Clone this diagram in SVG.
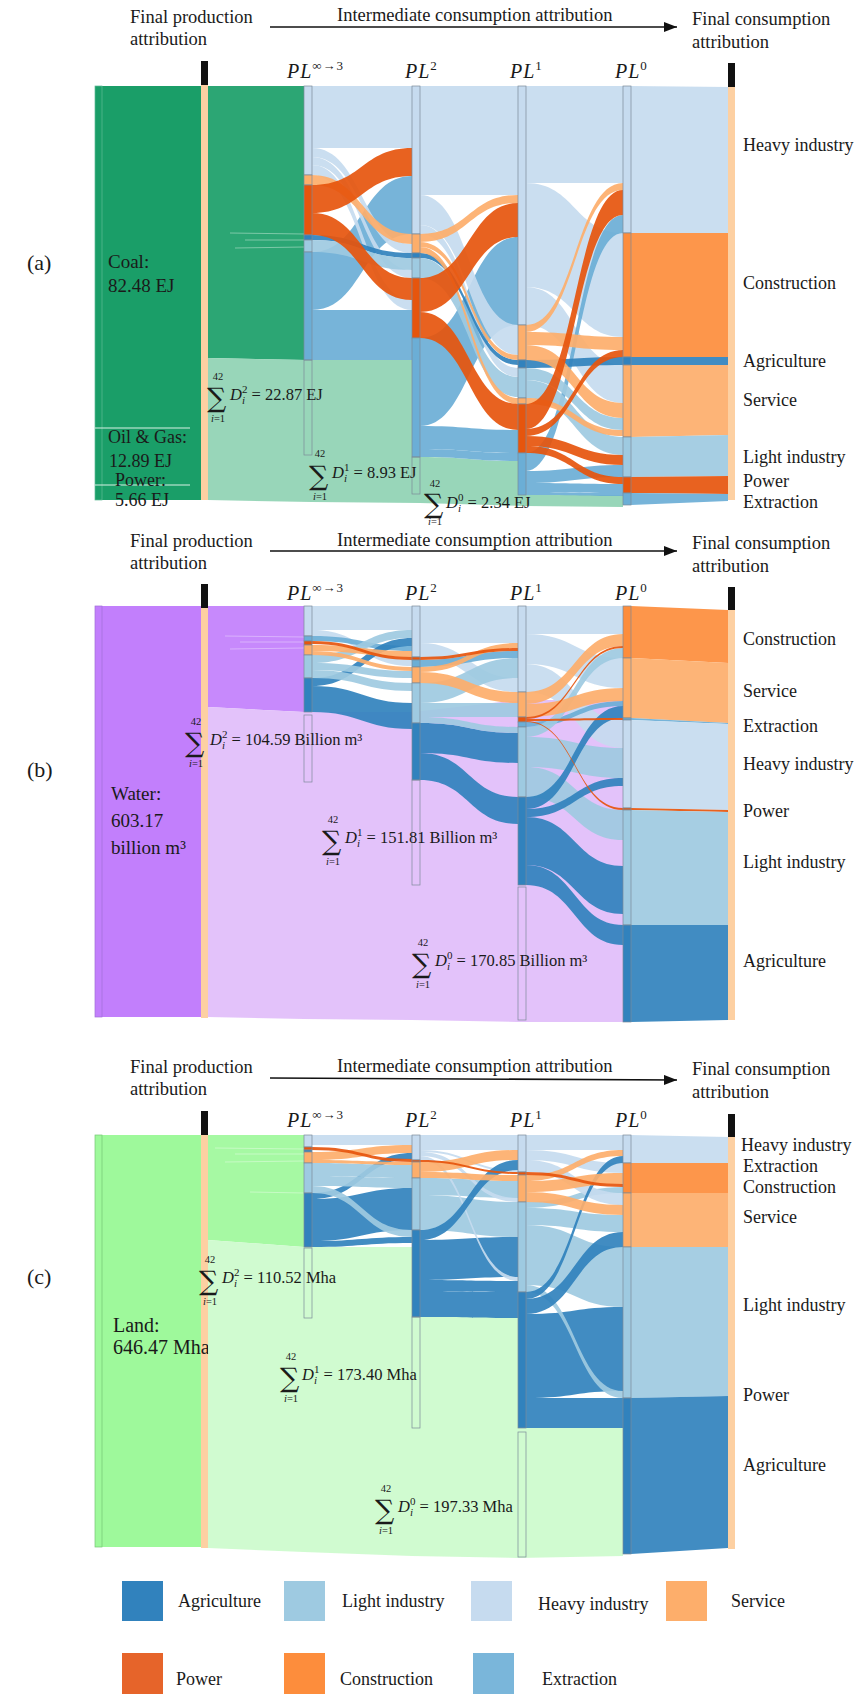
<svg xmlns="http://www.w3.org/2000/svg" width="864" height="1694" viewBox="0 0 864 1694">
<defs>
<marker id="arr" markerUnits="userSpaceOnUse" markerWidth="13" markerHeight="10" refX="13" refY="5" orient="auto"><path d="M0 0L13 5L0 10Z" fill="#111"/></marker>
<style>
.h{fill:#c6dbef}.l{fill:#9ecae1}.a{fill:#3182bd}.e{fill:#6baed6}.s{fill:#fdae6b}.c{fill:#fd8d3c}.p{fill:#e6550d}
.fl path{fill-opacity:.92}
.nd rect{stroke:#7b8a99;stroke-width:.7}
rect.em{fill:none}
.tan{fill:#fdd0a2}
.blk{fill:#111}
.sl{stroke-width:1;opacity:.55}
text{font-family:"Liberation Serif","Times New Roman",serif;fill:#1a1a1a}
.tt{font-size:18.5px}
.lb{font-size:18px}
.big{font-size:19px}
.pl{font-size:20px;font-style:italic;letter-spacing:1px}
.up{font-style:normal;font-size:13px}
.sm{font-size:16.5px}
.sig{font-family:"DejaVu Serif",serif;font-size:27px}
.ss{font-size:10.5px}
.it{font-style:italic}
.arrow{stroke:#111;stroke-width:1.6;marker-end:url(#arr)}
</style>
</defs>
<rect width="864" height="1694" fill="#fff"/>

<!-- ================= PANEL A ================= -->
<g id="panel-a">
<g id="a-titles">
<text class="tt" x="130" y="23">Final production</text>
<text class="tt" x="130" y="45">attribution</text>
<line class="arrow" x1="270" y1="27" x2="677" y2="27"/>
<text class="tt" x="337" y="21">Intermediate consumption attribution</text>
<text class="tt" x="692" y="25">Final consumption</text>
<text class="tt" x="692" y="48">attribution</text>
<text x="27" y="270" font-size="22">(a)</text>
<text class="pl" x="287" y="78">PL<tspan class="up" dy="-8">∞→3</tspan></text>
<text class="pl" x="405" y="78">PL<tspan class="up" dy="-8">2</tspan></text>
<text class="pl" x="510" y="78">PL<tspan class="up" dy="-8">1</tspan></text>
<text class="pl" x="615" y="78">PL<tspan class="up" dy="-8">0</tspan></text>
</g>
<g id="a-source">
<rect x="95" y="86" width="106" height="414" fill="#1a9e68"/>
<rect x="95" y="86" width="7" height="414" fill="#1a9e68" stroke="#5fb996" stroke-width=".7"/>
<line x1="95" y1="428" x2="190" y2="428" stroke="#d8f0e4" stroke-width="1"/>
<line x1="95" y1="485" x2="190" y2="485" stroke="#d8f0e4" stroke-width="1"/>
<rect class="tan" x="201" y="85" width="7" height="415"/>
<rect class="blk" x="201" y="61" width="7" height="24"/>
<text class="big" x="108" y="268">Coal:</text>
<text class="big" x="108" y="292">82.48 EJ</text>
<text class="lb" x="108" y="443">Oil &amp; Gas:</text>
<text class="lb" x="109" y="467">12.89 EJ</text>
<text class="lb" x="115" y="486">Power:</text>
<text class="lb" x="115" y="506">5.66 EJ</text>
</g>
<g id="a-flows" class="fl">
<path d="M208 86H304V360L208 358Z" fill="#1a9e68" fill-opacity="1"/>
<line class="sl" x1="230" y1="233" x2="304" y2="234" stroke="#bfe6d3"/>
<line class="sl" x1="245" y1="240" x2="304" y2="240" stroke="#bfe6d3"/>
<line class="sl" x1="235" y1="248" x2="304" y2="247" stroke="#bfe6d3"/>
<path d="M208 358L312 360L412 360V457H420C469 457 469 461 518 461V495H623V507L526 506L420 503L312 502L208 500Z" fill="#8fd3b3" fill-opacity="1"/>
<path class="e" d="M312 252C362 252 362 176 412 176V234C362 234 362 310 312 310Z"/>
<path class="e" d="M312 310H412V338H312Z"/>
<path class="e" d="M312 338H412V360H312Z"/>
<path class="h" d="M312 86H412V148H312Z"/>
<path class="h" d="M312 148C362 148 362 244 412 244V253C362 253 362 157 312 157Z"/>
<path class="h" d="M312 157C362 157 362 270 412 270V278C362 278 362 165 312 165Z"/>
<path class="h" d="M312 165C362 165 362 300 412 300V310C362 310 362 175 312 175Z"/>
<path class="a" d="M312 235C362 235 362 253 412 253V258C362 258 362 240 312 240Z"/>
<path class="l" d="M312 240C362 240 362 258 412 258V270C362 270 362 252 312 252Z"/>
<path class="s" d="M312 175C362 175 362 234 412 234V244C362 244 362 185 312 185Z"/>
<path class="p" d="M312 185C362 185 362 148 412 148V176C362 176 362 213 312 213Z"/>
<path class="p" d="M312 213C362 213 362 278 412 278V300C362 300 362 235 312 235Z"/>

<path class="h" d="M420 86H518V195H420Z"/>
<path class="e" d="M420 338C469 338 469 237 518 237V325C469 325 469 426 420 426Z"/>
<path class="e" d="M420 426C469 426 469 430 518 430V453C469 453 469 449 420 449Z"/>
<path class="e" d="M420 449C469 449 469 453 518 453V461C469 461 469 457 420 457Z"/>
<path class="h" d="M420 195C469 195 469 325 518 325V355C469 355 469 225 420 225Z"/>
<path class="h" d="M420 225C469 225 469 368 518 368V377C469 377 469 234 420 234Z"/>
<path class="a" d="M420 253C469 253 469 360 518 360V365C469 365 469 258 420 258Z"/>
<path class="l" d="M420 258C469 258 469 377 518 377V397C469 397 469 278 420 278Z"/>
<path class="s" d="M420 234C469 234 469 195 518 195V203C469 203 469 242 420 242Z"/>
<path class="s" d="M420 242C469 242 469 355 518 355V360C469 360 469 247 420 247Z"/>
<path class="s" d="M420 247C469 247 469 398 518 398V404C469 404 469 253 420 253Z"/>
<path class="p" d="M420 278C469 278 469 203 518 203V237C469 237 469 312 420 312Z"/>
<path class="p" d="M420 312C469 312 469 404 518 404V430C469 430 469 338 420 338Z"/>

<path class="h" d="M526 86H623V183H526Z"/>
<path class="h" d="M526 183C575 183 575 233 623 233V337C575 337 575 287 526 287Z"/>
<path class="h" d="M526 287C575 287 575 365 623 365V403C575 403 575 325 526 325Z"/>
<path class="e" d="M526 453C575 453 575 215 623 215V233C575 233 575 471 526 471Z"/>
<path class="e" d="M526 471C575 471 575 465 623 465V477C575 477 575 483 526 483Z"/>
<path class="e" d="M526 483C575 483 575 484 623 484V493C575 493 575 492 526 492Z"/>
<path class="e" d="M526 492C575 492 575 493 623 493V496C575 496 575 495 526 495Z"/>
<path class="a" d="M526 360C575 360 575 357 623 357V365C575 365 575 368 526 368Z"/>
<path class="l" d="M526 368C575 368 575 418 623 418V430C575 430 575 380 526 380Z"/>
<path class="l" d="M526 380C575 380 575 437 623 437V455C575 455 575 398 526 398Z"/>
<path class="s" d="M526 325C575 325 575 183 623 183V190C575 190 575 332 526 332Z"/>
<path class="s" d="M526 332C575 332 575 337 623 337V350C575 350 575 345 526 345Z"/>
<path class="s" d="M526 345C575 345 575 403 623 403V418C575 418 575 360 526 360Z"/>
<path class="s" d="M526 398C575 398 575 430 623 430V436C575 436 575 404 526 404Z"/>
<path class="p" d="M526 404C575 404 575 190 623 190V215C575 215 575 429 526 429Z"/>
<path class="p" d="M526 429C575 429 575 350 623 350V357C575 357 575 436 526 436Z"/>
<path class="p" d="M526 436C575 436 575 455 623 455V465C575 465 575 446 526 446Z"/>
<path class="p" d="M526 446C575 446 575 477 623 477V484C575 484 575 453 526 453Z"/>

<path class="h" d="M631 86L728 87V233H631Z"/>
<path class="c" d="M631 233H728V357H631Z"/>
<path class="a" d="M631 357H728V365H631Z"/>
<path class="s" d="M631 365L728 365V435L631 437Z"/>
<path class="l" d="M631 437L728 435V476L631 477Z"/>
<path class="p" d="M631 477L728 476V494L631 493Z"/>
<path class="e" d="M631 493L728 494V501L631 505Z"/>
</g>
<g id="a-PLinf" class="nd">
<rect class="h" x="304" y="86" width="8" height="89"/><rect class="s" x="304" y="175" width="8" height="10"/><rect class="p" x="304" y="185" width="8" height="50"/><rect class="a" x="304" y="235" width="8" height="5"/><rect class="l" x="304" y="240" width="8" height="12"/><rect class="e" x="304" y="252" width="8" height="108"/><rect class="em" x="304" y="360" width="8" height="95"/>
</g>
<g id="a-PL2" class="nd">
<rect class="h" x="412" y="86" width="8" height="148"/><rect class="s" x="412" y="234" width="8" height="19"/><rect class="a" x="412" y="253" width="8" height="5"/><rect class="l" x="412" y="258" width="8" height="20"/><rect class="p" x="412" y="278" width="8" height="60"/><rect class="e" x="412" y="338" width="8" height="119"/><rect class="em" x="412" y="457" width="8" height="37"/>
</g>
<g id="a-PL1" class="nd">
<rect class="h" x="518" y="86" width="8" height="239"/><rect class="s" x="518" y="325" width="8" height="35"/><rect class="a" x="518" y="360" width="8" height="8"/><rect class="l" x="518" y="368" width="8" height="30"/><rect class="s" x="518" y="398" width="8" height="6"/><rect class="p" x="518" y="404" width="8" height="49"/><rect class="e" x="518" y="453" width="8" height="42"/>
</g>
<g id="a-PL0" class="nd">
<rect class="h" x="623" y="86" width="8" height="147"/><rect class="c" x="623" y="233" width="8" height="124"/><rect class="a" x="623" y="357" width="8" height="8"/><rect class="s" x="623" y="365" width="8" height="72"/><rect class="l" x="623" y="437" width="8" height="40"/><rect class="p" x="623" y="477" width="8" height="16"/><rect class="e" x="623" y="493" width="8" height="12"/>
</g>
<g id="a-final">
<rect class="tan" x="728" y="87" width="7" height="413"/>
<rect class="blk" x="728" y="63" width="7" height="24"/>
<text class="lb" x="743" y="151">Heavy industry</text>
<text class="lb" x="743" y="289">Construction</text>
<text class="lb" x="743" y="367">Agriculture</text>
<text class="lb" x="743" y="406">Service</text>
<text class="lb" x="743" y="463">Light industry</text>
<text class="lb" x="743" y="487">Power</text>
<text class="lb" x="743" y="508">Extraction</text>
</g>
<g id="a-sums">
<text class="ss" x="218" y="380" text-anchor="middle">42</text>
<text class="sig" x="207" y="407">∑</text>
<text class="ss" x="218" y="422" text-anchor="middle"><tspan class="it">i</tspan>=1</text>
<text class="sm" x="230" y="400"><tspan class="it">D</tspan><tspan class="it" font-size="11" dy="4">i</tspan><tspan font-size="11" dx="-3" dy="-11">2</tspan><tspan dy="7"> = 22.87 EJ</tspan></text>
<text class="ss" x="320" y="457" text-anchor="middle">42</text>
<text class="sig" x="309" y="485">∑</text>
<text class="ss" x="320" y="500" text-anchor="middle"><tspan class="it">i</tspan>=1</text>
<text class="sm" x="332" y="478"><tspan class="it">D</tspan><tspan class="it" font-size="11" dy="4">i</tspan><tspan font-size="11" dx="-3" dy="-11">1</tspan><tspan dy="7"> = 8.93 EJ</tspan></text>
<text class="ss" x="435" y="487" text-anchor="middle">42</text>
<text class="sig" x="424" y="513">∑</text>
<text class="ss" x="435" y="525" text-anchor="middle"><tspan class="it">i</tspan>=1</text>
<text class="sm" x="446" y="508"><tspan class="it">D</tspan><tspan class="it" font-size="11" dy="4">i</tspan><tspan font-size="11" dx="-3" dy="-11">0</tspan><tspan dy="7"> = 2.34 EJ</tspan></text>
</g>
</g>

<!-- ================= PANEL B ================= -->
<g id="panel-b">
<g id="b-titles">
<text class="tt" x="130" y="547">Final production</text>
<text class="tt" x="130" y="569">attribution</text>
<line class="arrow" x1="270" y1="551" x2="677" y2="551"/>
<text class="tt" x="337" y="546">Intermediate consumption attribution</text>
<text class="tt" x="692" y="549">Final consumption</text>
<text class="tt" x="692" y="572">attribution</text>
<text x="27" y="777" font-size="22">(b)</text>
<text class="pl" x="287" y="600">PL<tspan class="up" dy="-8">∞→3</tspan></text>
<text class="pl" x="405" y="600">PL<tspan class="up" dy="-8">2</tspan></text>
<text class="pl" x="510" y="600">PL<tspan class="up" dy="-8">1</tspan></text>
<text class="pl" x="615" y="600">PL<tspan class="up" dy="-8">0</tspan></text>
</g>
<g id="b-source">
<rect x="95" y="606" width="106" height="411" fill="#c27ffc"/>
<rect x="95" y="606" width="7" height="411" fill="#c27ffc" stroke="#a070d8" stroke-width=".7"/>
<rect class="tan" x="201" y="608" width="7" height="410"/>
<rect class="blk" x="201" y="584" width="7" height="24"/>
<text class="big" x="111" y="800">Water:</text>
<text class="big" x="111" y="827">603.17</text>
<text class="big" x="111" y="854">billion  m³</text>
</g>
<g id="b-flows" class="fl">
<path d="M208 606H304V712L208 707Z" fill="#c27ffc" fill-opacity="1"/>
<line class="sl" x1="225" y1="636" x2="304" y2="637" stroke="#ead4fd"/>
<line class="sl" x1="240" y1="642" x2="304" y2="642" stroke="#ead4fd"/>
<line class="sl" x1="230" y1="649" x2="304" y2="648" stroke="#ead4fd"/>
<path d="M208 707L304 712L412 712L518 700L623 700V1022L518 1022L412 1020L304 1019L208 1017Z" fill="#e1bdfa" fill-opacity="1"/>
<path class="h" d="M312 606H412V630H312Z"/>
<path class="h" d="M312 630C362 630 362 660 412 660V666C362 666 362 636 312 636Z"/>
<path class="e" d="M312 636C362 636 362 646 412 646V651C362 651 362 641 312 641Z"/>
<path class="a" d="M312 678C362 678 362 638 412 638V646C362 646 362 686 312 686Z"/>
<path class="a" d="M312 686C362 686 362 703 412 703V729C362 729 362 712 312 712Z"/>
<path class="l" d="M312 655C362 655 362 630 412 630V638C362 638 362 663 312 663Z"/>
<path class="l" d="M312 663C362 663 362 671 412 671V678C362 678 362 670 312 670Z"/>
<path class="l" d="M312 670C362 670 362 683 412 683V691C362 691 362 678 312 678Z"/>
<path class="s" d="M312 645C362 645 362 651 412 651V657C362 657 362 651 312 651Z"/>
<path class="s" d="M312 651C362 651 362 667 412 667V671C362 671 362 655 312 655Z"/>
<path class="p" d="M312 641C362 641 362 657 412 657V660C362 660 362 644 312 644Z"/>

<path class="h" d="M420 606H518V643H420Z"/>
<path class="h" d="M420 643C469 643 469 678 518 678V692C469 692 469 657 420 657Z"/>
<path class="e" d="M420 660C469 660 469 651 518 651V658C469 658 469 667 420 667Z"/>
<path class="a" d="M420 723C469 723 469 733 518 733V763C469 763 469 753 420 753Z"/>
<path class="a" d="M420 753C469 753 469 797 518 797V824C469 824 469 780 420 780Z"/>
<path class="l" d="M420 683C469 683 469 658 518 658V678C469 678 469 703 420 703Z"/>
<path class="l" d="M420 703H518V717H420Z"/>
<path class="l" d="M420 717C469 717 469 727 518 727V733C469 733 469 723 420 723Z"/>
<path class="s" d="M420 667C469 667 469 643 518 643V648C469 648 469 672 420 672Z"/>
<path class="s" d="M420 672C469 672 469 692 518 692V703C469 703 469 683 420 683Z"/>
<path class="p" d="M420 657C469 657 469 648 518 648V651C469 651 469 660 420 660Z"/>

<path class="h" d="M526 606H623V634H526Z"/>
<path class="h" d="M526 634C575 634 575 658 623 658V688C575 688 575 664 526 664Z"/>
<path class="h" d="M526 664C575 664 575 720 623 720V748C575 748 575 692 526 692Z"/>
<path class="e" d="M526 722C575 722 575 701 623 701V706C575 706 575 727 526 727Z"/>
<path class="a" d="M526 817C575 817 575 866 623 866V914C575 914 575 865 526 865Z"/>
<path class="a" d="M526 865C575 865 575 925 623 925V945C575 945 575 885 526 885Z"/>
<path class="l" d="M526 727C575 727 575 648 623 648V658C575 658 575 737 526 737Z"/>
<path class="l" d="M526 737C575 737 575 748 623 748V778C575 778 575 767 526 767Z"/>
<path class="l" d="M526 767C575 767 575 810 623 810V840C575 840 575 797 526 797Z"/>
<path class="a" d="M526 797C575 797 575 706 623 706V718C575 718 575 809 526 809Z"/>
<path class="a" d="M526 809C575 809 575 778 623 778V786C575 786 575 817 526 817Z"/>
<path class="s" d="M526 692C575 692 575 634 623 634V646C575 646 575 704 526 704Z"/>
<path class="s" d="M526 704C575 704 575 688 623 688V701C575 701 575 717 526 717Z"/>
<path class="p" d="M526 717C575 717 575 646 623 646V648C575 648 575 719 526 719Z"/>
<path class="p" d="M526 719C575 719 575 718 623 718V720C575 720 575 721 526 721Z"/>
<path class="p" d="M526 721C575 721 575 808 623 808V810C575 810 575 722 526 722Z"/>

<path class="c" d="M631 606L728 610V663L631 658Z"/>
<path class="s" d="M631 658L728 663V723L631 718Z"/>
<path class="e" d="M631 718L728 723V724L631 720Z"/>
<path class="h" d="M631 720L728 724V810L631 808Z"/>
<path class="p" d="M631 808L728 810V812L631 810Z"/>
<path class="l" d="M631 810L728 812V925H631Z"/>
<path class="a" d="M631 925H728V1020L631 1022Z"/>
</g>
<g id="b-PLinf" class="nd">
<rect class="h" x="304" y="606" width="8" height="30"/><rect class="e" x="304" y="636" width="8" height="5"/><rect class="p" x="304" y="641" width="8" height="4"/><rect class="s" x="304" y="645" width="8" height="10"/><rect class="l" x="304" y="655" width="8" height="23"/><rect class="a" x="304" y="678" width="8" height="34"/><rect class="em" x="304" y="715" width="8" height="67"/>
</g>
<g id="b-PL2" class="nd">
<rect class="h" x="412" y="606" width="8" height="51"/><rect class="p" x="412" y="657" width="8" height="3"/><rect class="e" x="412" y="660" width="8" height="7"/><rect class="s" x="412" y="667" width="8" height="16"/><rect class="l" x="412" y="683" width="8" height="40"/><rect class="a" x="412" y="723" width="8" height="57"/><rect class="em" x="412" y="780" width="8" height="105"/>
</g>
<g id="b-PL1" class="nd">
<rect class="h" x="518" y="606" width="8" height="86"/><rect class="s" x="518" y="692" width="8" height="25"/><rect class="p" x="518" y="717" width="8" height="5"/><rect class="e" x="518" y="722" width="8" height="5"/><rect class="l" x="518" y="727" width="8" height="70"/><rect class="a" x="518" y="797" width="8" height="88"/><rect class="em" x="518" y="887" width="8" height="133"/>
</g>
<g id="b-PL0" class="nd">
<rect class="c" x="623" y="606" width="8" height="52"/><rect class="s" x="623" y="658" width="8" height="60"/><rect class="e" x="623" y="718" width="8" height="2"/><rect class="h" x="623" y="720" width="8" height="88"/><rect class="p" x="623" y="808" width="8" height="2"/><rect class="l" x="623" y="810" width="8" height="115"/><rect class="a" x="623" y="925" width="8" height="97"/>
</g>
<g id="b-final">
<rect class="tan" x="728" y="610" width="7" height="410"/>
<rect class="blk" x="728" y="587" width="7" height="23"/>
<text class="lb" x="743" y="645">Construction</text>
<text class="lb" x="743" y="697">Service</text>
<text class="lb" x="743" y="732">Extraction</text>
<text class="lb" x="743" y="770">Heavy industry</text>
<text class="lb" x="743" y="817">Power</text>
<text class="lb" x="743" y="868">Light industry</text>
<text class="lb" x="743" y="967">Agriculture</text>
</g>
<g id="b-sums">
<text class="ss" x="196" y="725" text-anchor="middle">42</text>
<text class="sig" x="185" y="752">∑</text>
<text class="ss" x="196" y="767" text-anchor="middle"><tspan class="it">i</tspan>=1</text>
<text class="sm" x="210" y="745"><tspan class="it">D</tspan><tspan class="it" font-size="11" dy="4">i</tspan><tspan font-size="11" dx="-3" dy="-11">2</tspan><tspan dy="7"> = 104.59 Billion m³</tspan></text>
<text class="ss" x="333" y="823" text-anchor="middle">42</text>
<text class="sig" x="322" y="850">∑</text>
<text class="ss" x="333" y="865" text-anchor="middle"><tspan class="it">i</tspan>=1</text>
<text class="sm" x="345" y="843"><tspan class="it">D</tspan><tspan class="it" font-size="11" dy="4">i</tspan><tspan font-size="11" dx="-3" dy="-11">1</tspan><tspan dy="7"> = 151.81 Billion m³</tspan></text>
<text class="ss" x="423" y="946" text-anchor="middle">42</text>
<text class="sig" x="412" y="973">∑</text>
<text class="ss" x="423" y="988" text-anchor="middle"><tspan class="it">i</tspan>=1</text>
<text class="sm" x="435" y="966"><tspan class="it">D</tspan><tspan class="it" font-size="11" dy="4">i</tspan><tspan font-size="11" dx="-3" dy="-11">0</tspan><tspan dy="7"> = 170.85 Billion m³</tspan></text>
</g>
</g>

<!-- ================= PANEL C ================= -->
<g id="panel-c">
<g id="c-titles">
<text class="tt" x="130" y="1073">Final production</text>
<text class="tt" x="130" y="1095">attribution</text>
<line class="arrow" x1="270" y1="1078" x2="677" y2="1080"/>
<text class="tt" x="337" y="1072">Intermediate consumption attribution</text>
<text class="tt" x="692" y="1075">Final consumption</text>
<text class="tt" x="692" y="1098">attribution</text>
<text x="27" y="1284" font-size="22">(c)</text>
<text class="pl" x="287" y="1127">PL<tspan class="up" dy="-8">∞→3</tspan></text>
<text class="pl" x="405" y="1127">PL<tspan class="up" dy="-8">2</tspan></text>
<text class="pl" x="510" y="1127">PL<tspan class="up" dy="-8">1</tspan></text>
<text class="pl" x="615" y="1127">PL<tspan class="up" dy="-8">0</tspan></text>
</g>
<g id="c-source">
<rect x="95" y="1135" width="106" height="412" fill="#9ef99b"/>
<rect x="95" y="1135" width="7" height="412" fill="#9ef99b" stroke="#74c774" stroke-width=".7"/>
<rect class="tan" x="201" y="1135" width="7" height="413"/>
<rect class="blk" x="201" y="1111" width="7" height="24"/>
<text x="113" y="1332" font-size="20">Land:</text>
<text x="113" y="1354" font-size="20">646.47 Mha</text>
</g>
<g id="c-flows" class="fl">
<path d="M208 1135H304V1247L208 1240Z" fill="#9ef99b" fill-opacity="1"/>
<line class="sl" x1="215" y1="1148" x2="304" y2="1149" stroke="#e2fde1"/>
<line class="sl" x1="235" y1="1154" x2="304" y2="1154" stroke="#e2fde1"/>
<line class="sl" x1="225" y1="1162" x2="304" y2="1161" stroke="#e2fde1"/>
<line class="sl" x1="250" y1="1192" x2="304" y2="1193" stroke="#e2fde1"/>
<path d="M208 1240L304 1247L412 1247V1317H518V1428H623V1556L518 1558L412 1556L304 1552L208 1548Z" fill="#ccfbcc" fill-opacity="1"/>
<path class="h" d="M312 1135H412V1145H312Z"/>
<path class="a" d="M312 1199C362 1199 362 1188 412 1188V1230C362 1230 362 1241 312 1241Z"/>
<path class="a" d="M312 1241C362 1241 362 1237 412 1237V1243C362 1243 362 1247 312 1247Z"/>
<path class="a" d="M312 1193C362 1193 362 1153 412 1153V1159C362 1159 362 1199 312 1199Z"/>
<path class="l" d="M312 1163C362 1163 362 1165 412 1165V1178C362 1178 362 1176 312 1176Z"/>
<path class="l" d="M312 1176C362 1176 362 1178 412 1178V1188C362 1188 362 1186 312 1186Z"/>
<path class="l" d="M312 1186C362 1186 362 1230 412 1230V1237C362 1237 362 1193 312 1193Z"/>
<path class="s" d="M312 1152C362 1152 362 1145 412 1145V1153C362 1153 362 1160 312 1160Z"/>
<path class="s" d="M312 1160C362 1160 362 1162 412 1162V1165C362 1165 362 1163 312 1163Z"/>
<path class="p" d="M312 1147C362 1147 362 1159 412 1159V1162C362 1162 362 1150 312 1150Z"/>

<path class="h" d="M420 1135H518V1150H420Z"/>
<path class="a" d="M420 1240C469 1240 469 1237 518 1237V1277C469 1277 469 1280 420 1280Z"/>
<path class="a" d="M420 1280C469 1280 469 1281 518 1281V1292C469 1292 469 1291 420 1291Z"/>
<path class="a" d="M420 1291C469 1291 469 1292 518 1292V1318C469 1318 469 1317 420 1317Z"/>
<path class="l" d="M420 1178C469 1178 469 1181 518 1181V1198C469 1198 469 1195 420 1195Z"/>
<path class="l" d="M420 1195C469 1195 469 1202 518 1202V1237C469 1237 469 1230 420 1230Z"/>
<path class="h" d="M420 1150C469 1150 469 1170 518 1170V1172C469 1172 469 1152 420 1152Z"/>
<path class="h" d="M420 1152C469 1152 469 1198 518 1198V1202C469 1202 469 1156 420 1156Z"/>
<path class="h" d="M420 1156C469 1156 469 1277 518 1277V1281C469 1281 469 1160 420 1160Z"/>
<path class="a" d="M420 1230C469 1230 469 1160 518 1160V1170C469 1170 469 1240 420 1240Z"/>
<path class="s" d="M420 1162C469 1162 469 1150 518 1150V1160C469 1160 469 1172 420 1172Z"/>
<path class="s" d="M420 1172C469 1172 469 1175 518 1175V1181C469 1181 469 1178 420 1178Z"/>
<path class="p" d="M420 1160C469 1160 469 1172 518 1172V1174C469 1174 469 1162 420 1162Z"/>

<path class="h" d="M526 1135H623V1150H526Z"/>
<path class="a" d="M526 1314C575 1314 575 1307 623 1307V1391C575 1391 575 1398 526 1398Z"/>
<path class="a" d="M526 1398H623V1428H526Z"/>
<path class="l" d="M526 1225C575 1225 575 1247 623 1247V1307C575 1307 575 1285 526 1285Z"/>
<path class="l" d="M526 1285C575 1285 575 1391 623 1391V1398C575 1398 575 1292 526 1292Z"/>
<path class="l" d="M526 1202C575 1202 575 1187 623 1187V1193C575 1193 575 1208 526 1208Z"/>
<path class="l" d="M526 1208C575 1208 575 1215 623 1215V1232C575 1232 575 1225 526 1225Z"/>
<path class="h" d="M526 1150C575 1150 575 1163 623 1163V1173C575 1173 575 1160 526 1160Z"/>
<path class="h" d="M526 1160C575 1160 575 1193 623 1193V1205C575 1205 575 1172 526 1172Z"/>
<path class="a" d="M526 1292C575 1292 575 1156 623 1156V1163C575 1163 575 1299 526 1299Z"/>
<path class="a" d="M526 1299C575 1299 575 1232 623 1232V1247C575 1247 575 1314 526 1314Z"/>
<path class="s" d="M526 1175C575 1175 575 1150 623 1150V1156C575 1156 575 1181 526 1181Z"/>
<path class="s" d="M526 1181C575 1181 575 1173 623 1173V1184C575 1184 575 1192 526 1192Z"/>
<path class="s" d="M526 1192C575 1192 575 1205 623 1205V1215C575 1215 575 1202 526 1202Z"/>
<path class="p" d="M526 1172C575 1172 575 1184 623 1184V1187C575 1187 575 1175 526 1175Z"/>

<path class="h" d="M631 1135L728 1137V1163H631Z"/>
<path class="c" d="M631 1163H728V1193H631Z"/>
<path class="s" d="M631 1193H728V1247H631Z"/>
<path class="l" d="M631 1247H728V1396L631 1398Z"/>
<path class="a" d="M631 1398L728 1396V1548L631 1554Z"/>
</g>
<g id="c-PLinf" class="nd">
<rect class="h" x="304" y="1135" width="8" height="12"/><rect class="p" x="304" y="1147" width="8" height="3"/><rect class="a" x="304" y="1150" width="8" height="2"/><rect class="s" x="304" y="1152" width="8" height="11"/><rect class="l" x="304" y="1163" width="8" height="30"/><rect class="a" x="304" y="1193" width="8" height="54"/><rect class="em" x="304" y="1248" width="8" height="70"/>
</g>
<g id="c-PL2" class="nd">
<rect class="h" x="412" y="1135" width="8" height="25"/><rect class="p" x="412" y="1160" width="8" height="2"/><rect class="s" x="412" y="1162" width="8" height="16"/><rect class="l" x="412" y="1178" width="8" height="52"/><rect class="a" x="412" y="1230" width="8" height="87"/><rect class="em" x="412" y="1317" width="8" height="111"/>
</g>
<g id="c-PL1" class="nd">
<rect class="h" x="518" y="1135" width="8" height="37"/><rect class="p" x="518" y="1172" width="8" height="3"/><rect class="s" x="518" y="1175" width="8" height="27"/><rect class="l" x="518" y="1202" width="8" height="90"/><rect class="a" x="518" y="1292" width="8" height="136"/><rect class="em" x="518" y="1432" width="8" height="125"/>
</g>
<g id="c-PL0" class="nd">
<rect class="h" x="623" y="1135" width="8" height="28"/><rect class="c" x="623" y="1163" width="8" height="30"/><rect class="s" x="623" y="1193" width="8" height="54"/><rect class="l" x="623" y="1247" width="8" height="151"/><rect class="a" x="623" y="1398" width="8" height="156"/>
</g>
<g id="c-final">
<rect class="tan" x="728" y="1137" width="7" height="412"/>
<rect class="blk" x="728" y="1114" width="7" height="23"/>
<text class="lb" x="741" y="1151">Heavy industry</text>
<text class="lb" x="743" y="1172">Extraction</text>
<text class="lb" x="743" y="1193">Construction</text>
<text class="lb" x="743" y="1223">Service</text>
<text class="lb" x="743" y="1311">Light industry</text>
<text class="lb" x="743" y="1401">Power</text>
<text class="lb" x="743" y="1471">Agriculture</text>
</g>
<g id="c-sums">
<text class="ss" x="210" y="1263" text-anchor="middle">42</text>
<text class="sig" x="199" y="1290">∑</text>
<text class="ss" x="210" y="1305" text-anchor="middle"><tspan class="it">i</tspan>=1</text>
<text class="sm" x="222" y="1283"><tspan class="it">D</tspan><tspan class="it" font-size="11" dy="4">i</tspan><tspan font-size="11" dx="-3" dy="-11">2</tspan><tspan dy="7"> = 110.52 Mha</tspan></text>
<text class="ss" x="291" y="1360" text-anchor="middle">42</text>
<text class="sig" x="280" y="1387">∑</text>
<text class="ss" x="291" y="1402" text-anchor="middle"><tspan class="it">i</tspan>=1</text>
<text class="sm" x="302" y="1380"><tspan class="it">D</tspan><tspan class="it" font-size="11" dy="4">i</tspan><tspan font-size="11" dx="-3" dy="-11">1</tspan><tspan dy="7"> = 173.40 Mha</tspan></text>
<text class="ss" x="386" y="1492" text-anchor="middle">42</text>
<text class="sig" x="375" y="1519">∑</text>
<text class="ss" x="386" y="1534" text-anchor="middle"><tspan class="it">i</tspan>=1</text>
<text class="sm" x="398" y="1512"><tspan class="it">D</tspan><tspan class="it" font-size="11" dy="4">i</tspan><tspan font-size="11" dx="-3" dy="-11">0</tspan><tspan dy="7"> = 197.33 Mha</tspan></text>
</g>
</g>

<!-- ================= LEGEND ================= -->
<g id="legend">
<rect class="a" x="122" y="1581" width="41" height="40"/>
<text class="lb" x="178" y="1607">Agriculture</text>
<rect class="l" x="284" y="1581" width="41" height="40"/>
<text class="lb" x="342" y="1607">Light industry</text>
<rect class="h" x="471" y="1581" width="41" height="40"/>
<text class="lb" x="538" y="1610">Heavy industry</text>
<rect class="s" x="666" y="1581" width="41" height="40"/>
<text class="lb" x="731" y="1607">Service</text>
<rect x="122" y="1653" width="41" height="41" fill="#e6642a"/>
<text class="lb" x="176" y="1685">Power</text>
<rect class="c" x="284" y="1653" width="41" height="41"/>
<text class="lb" x="340" y="1685">Construction</text>
<rect x="473" y="1653" width="41" height="41" fill="#7ab6da"/>
<text class="lb" x="542" y="1685">Extraction</text>
</g>
</svg>
